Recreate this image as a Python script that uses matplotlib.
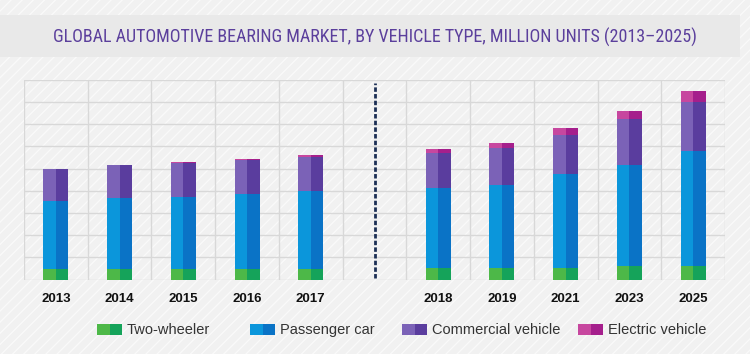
import matplotlib
matplotlib.use("Agg")
import matplotlib.pyplot as plt
from matplotlib.patches import Rectangle

# ---------------- data ----------------
years = ['2013', '2014', '2015', '2016', '2017', '2018', '2019', '2021', '2023', '2025']
two_wheeler = [23, 23, 23, 23, 23, 26, 26, 26, 30, 30]
passenger_car = [154, 161, 163, 169, 176, 181, 188, 211, 228, 259]
commercial = [72, 74, 77, 78, 78, 78, 83, 90, 105, 112]
electric = [1, 1.2, 1.5, 2.3, 3, 9, 11, 14, 17, 24]
series_names = ['Two-wheeler', 'Passenger car', 'Commercial vehicle', 'Electric vehicle']
title = 'GLOBAL AUTOMOTIVE BEARING MARKET, BY VEHICLE TYPE, MILLION UNITS (2013\u20132025)'

# ---------------- style ----------------
light = ['#4db848', '#0b96db', '#7b62b7', '#c7479f']
dark = ['#15a35a', '#0a73c6', '#5a3d9e', '#a51f8c']
plt.rcParams['hatch.linewidth'] = 0.9

fig = plt.figure(figsize=(7.5, 3.54), dpi=100)
fig.patch.set_facecolor('#f1f1f1')
bg = Rectangle((0, 0), 1, 1, transform=fig.transFigure, facecolor='#f1f1f1',
               edgecolor='#fafafa', hatch='///', linewidth=0, zorder=-10)
fig.patches.append(bg)
band = Rectangle((0, 1 - 57 / 354), 740 / 750, 42 / 354, transform=fig.transFigure,
                 facecolor='#e9e9e9', edgecolor='none', zorder=-9)
fig.patches.append(band)

t = fig.text(375 / 750, 1 - 37 / 354, title, ha='center', va='center',
             fontsize=21, color='#5b3f9c', fontstretch='condensed',
             family=['Roboto Condensed', 'DejaVu Sans Condensed', 'Roboto', 'DejaVu Sans'])
# shrink the title so that it spans the same width as in the reference
renderer = fig.canvas.get_renderer()
wpx = t.get_window_extent(renderer=renderer).width
target = 644.0
if wpx > target:
    t.set_fontsize(21 * target / wpx)

ax = fig.add_axes([24 / 750, 1 - 279.5 / 354, 701 / 750, 199.5 / 354])
ax.set_facecolor('none')

# positions: five historic bars, gap, five forecast bars
pos = list(range(5)) + list(range(6, 11))
w = 0.392
stacks = [two_wheeler, passenger_car, commercial, electric]
bottom = [0.0] * len(years)
for i, vals in enumerate(stacks):
    ax.bar([p - w / 4 for p in pos], vals, width=w / 2, bottom=bottom,
           color=light[i], linewidth=0, zorder=3)
    ax.bar([p + w / 4 for p in pos], vals, width=w / 2, bottom=bottom,
           color=dark[i], linewidth=0, zorder=3)
    bottom = [b + v for b, v in zip(bottom, vals)]

ax.axvline(5, ymin=0.01, ymax=0.985, color='#1c2f55', linewidth=2.0,
           linestyle=(0, (1.6, 0.8)), zorder=4)

ax.set_xlim(-0.5, 10.5)
ax.set_ylim(0, 450)
ax.set_yticks(range(0, 451, 50))
ax.set_yticklabels([])
ax.set_xticks(pos)
ax.set_xticklabels(years, fontsize=9.5, fontweight='bold', color='#111111',
                   family='Liberation Sans')
ax.set_xticks([x - 0.5 for x in range(12)], minor=True)
ax.tick_params(axis='both', which='both', length=0)
ax.tick_params(axis='x', which='major', pad=10)
ax.grid(True, axis='y', color='#d8d8d8', linewidth=1.0, zorder=0)
ax.grid(True, axis='x', which='minor', color='#d8d8d8', linewidth=1.0, zorder=0)
ax.grid(False, axis='x', which='major')
for s in ax.spines.values():
    s.set_visible(False)

# legend, drawn manually with two-tone swatches
leg_x = [97, 250, 402, 578]
for i, name in enumerate(series_names):
    x0 = leg_x[i] / 750
    y0 = 1 - 335 / 354
    hw = 12.5 / 750
    h = 11 / 354
    fig.patches.append(Rectangle((x0, y0), hw, h, transform=fig.transFigure,
                                 facecolor=light[i], edgecolor='none'))
    fig.patches.append(Rectangle((x0 + hw, y0), hw, h, transform=fig.transFigure,
                                 facecolor=dark[i], edgecolor='none'))
    fig.text(x0 + 2 * hw + 5 / 750, 1 - 330 / 354, name, ha='left', va='center',
             fontsize=10.5, color='#333333', family='Liberation Sans')

fig.savefig('out.png', dpi=100, facecolor=fig.get_facecolor())
